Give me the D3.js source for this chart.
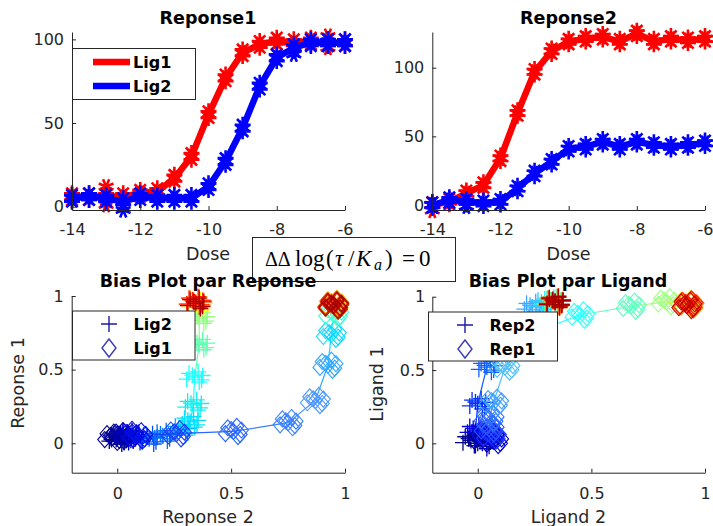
<!DOCTYPE html>
<html><head><meta charset="utf-8">
<script src="https://cdn.jsdelivr.net/npm/d3@7"></script>
<style>
body{margin:0;background:#fff}
svg{display:block}
text{font-family:"DejaVu Sans",sans-serif;fill:#262626}
text.serif{font-family:"Liberation Serif","DejaVu Serif",serif;fill:#000}
</style>
</head><body>
<svg id="c" width="713" height="526"></svg>
<script>
// ---------- DATA ----------
const doses = [-14,-13.5,-13,-12.5,-12,-11.5,-11,-10.5,-10,-9.5,-9,-8.5,-8,-7.5,-7,-6.5,-6];
const doseTicks = [-14,-12,-10,-8,-6];
const resp1Ticks = [0,50,100];
const resp2Ticks = [0,50,100];
const biasTicks = [0,0.5,1];

// Reponse1 (top left)
const r1Lig1 = [6,6,6,6,8,9,17,30,55,77,92,97,99,98,99,98,98];
const r1Lig2 = [5,6,5,3,6,5,5,5,12,27,47,72,89,95,98,98,98];
// Reponse2 (top right)
const r2Lig1 = [0,2.5,8.5,14.5,34,67,97,112,119,121,122.5,119,125,119,121,120,121];
const r2Lig2 = [0,3.6,2.4,1.2,2.4,12,23,31.5,41,42.5,46,42.5,46,43.7,42.5,43.7,45];
// individual replicate spread around the mean (value units) and outlying replicates
const topRepSpread = [-2, 0, 2];
const r1Lig1Extra = [[-13,12],[-13,1],[-6.5,102],[-6.5,95]];
const r1Lig2Extra = [[-12.5,-2],[-7.5,91]];
const r2Lig1Extra = [[-14,-4]];
const r2Lig2Extra = [[-13,-1]];

// Bias plot par Reponse (x = Reponse 2, y = Reponse 1)
const bpRLig1X = [-0.02,0.01,0.05,0.09,0.26,0.51,0.75,0.87,0.925,0.94,0.95,0.95,0.955,0.95,0.945,0.95,0.95];
const bpRLig1Y = [0.04,0.05,0.06,0.05,0.065,0.08,0.14,0.29,0.53,0.74,0.88,0.93,0.94,0.95,0.94,0.93,0.94];
const bpRLig1C = ['#00008c','#0000a6','#0000c8','#0010e8','#1a40ff','#2a66ff','#3a80ff','#4a96ff','#30a8ff','#10d8ff','#40ffd0','#90ff80','#e0ff30','#ffb000','#ff6000','#e01000','#a00000'];
const bpRLig2X = [0.00,0.01,0.03,0.05,0.08,0.14,0.20,0.28,0.32,0.334,0.34,0.36,0.36,0.35,0.345,0.34,0.345];
const bpRLig2Y = [0.03,0.04,0.04,0.05,0.04,0.03,0.05,0.09,0.145,0.26,0.45,0.67,0.85,0.94,0.96,0.96,0.95];
const bpRLig2C = ['#000080','#00009a','#0000c0','#0000e0','#0020ff','#0050ff','#0070ff','#00b0ff','#00e0ff','#10f0f0','#20ffff','#60ffb0','#90ff80','#ffff00','#ff9000','#ff2000','#b00000'];

// Bias plot par Ligand (x = Ligand 2, y = Ligand 1)
const bpLRep1X = [0.02,0.05,0.07,0.04,0.06,0.05,0.05,0.07,0.12,0.27,0.45,0.675,0.83,0.92,0.93,0.925,0.92];
const bpLRep1Y = [0.03,0.05,0.02,0.07,0.05,0.1,0.17,0.28,0.52,0.77,0.875,0.935,0.965,0.95,0.945,0.95,0.94];
const bpLRep1C = ['#00008c','#0000a6','#0000c8','#0010e8','#1a30ff','#2a50ff','#3070ff','#40a0ff','#50c0ff','#30d8ff','#30ffff','#60ffc0','#a0ff80','#ffe000','#ff8000','#ff2000','#c00000'];
const bpLRep2X = [-0.03,0.00,0.02,-0.01,0.00,0.04,0.15,0.24,0.29,0.32,0.33,0.34,0.34,0.335,0.34,0.34,0.34];
const bpLRep2Y = [0.02,0.05,0.0,0.09,0.27,0.52,0.78,0.93,0.95,0.96,0.965,0.97,0.96,0.965,0.97,0.96,0.965];
const bpLRep2C = ['#000080','#0000a0','#0000c0','#0000e0','#0030ff','#1060ff','#20a0ff','#40a8ff','#30c8ff','#20e8ff','#60ffa0','#d0ff20','#ffd000','#ff8000','#ff3000','#e00000','#a00000'];
// replicate offsets within each dose cluster
const repJitterX = [0, 0.03, -0.025, 0.015, -0.035, 0.02, -0.01, 0.035];
const repJitterY = [0, -0.02, 0.025, 0.035, -0.015, -0.035, 0.012, 0.01];

// ---------- DRAW ----------
const svg = d3.select('#c');
const AX = '#262626';

function styleAxis(g){
  g.attr('font-size',null).attr('font-family',null);
  g.selectAll('path,line').attr('stroke',AX);
  g.selectAll('text').attr('fill',AX).style('font-size','16px');
}
function drawAxes(x, y, xt, yt, xpad, ypad){
  const gx = svg.append('g').attr('transform',`translate(0,${y.range()[0]})`)
    .call(d3.axisBottom(x).tickValues(xt).tickSize(-4).tickSizeOuter(0).tickPadding(xpad).tickFormat(d=>String(d)));
  styleAxis(gx);
  const gy = svg.append('g').attr('transform',`translate(${x.range()[0]},0)`)
    .call(d3.axisLeft(y).tickValues(yt).tickSize(-4).tickSizeOuter(0).tickPadding(ypad).tickFormat(d=>String(d)));
  styleAxis(gy);
}
function title(txt, cx, by){
  svg.append('text').attr('x',cx).attr('y',by).attr('text-anchor','middle')
    .style('font-weight','bold').style('font-size','17.5px').style('fill','#000').text(txt);
}
function xlabel(txt, cx, by){
  svg.append('text').attr('x',cx).attr('y',by).attr('text-anchor','middle')
    .style('font-size','17.5px').text(txt);
}
function ylabel(txt, bx, cy){
  svg.append('text').attr('transform',`translate(${bx},${cy}) rotate(-90)`).attr('text-anchor','middle')
    .style('font-size','17.5px').text(txt);
}
function asterisk(r){
  const a = r*Math.SQRT1_2;
  return `M${-r},0L${r},0M0,${-r}L0,${r}M${-a},${-a}L${a},${a}M${-a},${a}L${a},${-a}`;
}
const diamondPath = 'M0,-8L7,0L0,8L-7,0Z';
const plusPath = 'M-8,0L8,0M0,-8L0,8';

function doseResponse(x, y, vals, extra, color){
  svg.append('path').datum(vals)
    .attr('d', d3.line().x((d,i)=>x(doses[i])).y(d=>y(d)))
    .attr('fill','none').attr('stroke',color).attr('stroke-width',6.5).attr('stroke-linejoin','round');
  const pts = [];
  vals.forEach((v,i)=>topRepSpread.forEach((o,k)=>pts.push([doses[i], v+o, k])));
  extra.forEach(e=>pts.push([e[0],e[1],1]));
  svg.append('g').selectAll('path').data(pts).join('path')
    .attr('transform',d=>`translate(${x(d[0])},${y(d[1])}) rotate(${d[2]===1?22.5:0})`)
    .attr('d',asterisk(8)).attr('fill','none').attr('stroke',color).attr('stroke-width',2.6);
}

// ---- Top left : Reponse1
const xTL = d3.scaleLinear([-14,-6],[72,345]);
const yTL = d3.scaleLinear([-2,104.4],[210,32]);
doseResponse(xTL,yTL,r1Lig1,r1Lig1Extra,'#ff0000');
doseResponse(xTL,yTL,r1Lig2,r1Lig2Extra,'#0000ff');
drawAxes(xTL,yTL,doseTicks,resp1Ticks,14,8);

// ---- Top right : Reponse2
const xTR = d3.scaleLinear([-14,-6],[432.3,705]);
const yTR = d3.scaleLinear([-3.64,126],[210,32]);
doseResponse(xTR,yTR,r2Lig1,r2Lig1Extra,'#ff0000');
doseResponse(xTR,yTR,r2Lig2,r2Lig2Extra,'#0000ff');
drawAxes(xTR,yTR,doseTicks,resp2Ticks,14,8);

// legend top left
const lgT = svg.append('g');
lgT.append('rect').attr('x',72.5).attr('y',48.5).attr('width',123).attr('height',51)
  .attr('fill','#fff').attr('stroke',AX).attr('stroke-width',1);
[['Lig1','#ff0000',62],['Lig2','#0000ff',86]].forEach(([t,c,yy])=>{
  lgT.append('line').attr('x1',93).attr('x2',130).attr('y1',yy).attr('y2',yy)
    .attr('stroke',c).attr('stroke-width',6.5);
  lgT.append('text').attr('x',133).attr('y',yy+6).style('font-weight','bold')
    .style('font-size','16px').style('fill','#000').text(t);
});

// ---- Bias plots
function biasSeries(x, y, xs, ys, cols, shape, sw){
  const g = svg.append('g');
  for(let i=0;i<xs.length-1;i++){
    g.append('line').attr('x1',x(xs[i])).attr('y1',y(ys[i])).attr('x2',x(xs[i+1])).attr('y2',y(ys[i+1]))
      .attr('stroke',cols[i+1]).attr('stroke-width',1.2);
  }
  const pts = [];
  xs.forEach((v,i)=>repJitterX.forEach((jx,r)=>pts.push({x:v+jx, y:ys[i]+repJitterY[r], c:cols[i]})));
  g.selectAll('path').data(pts).join('path')
    .attr('transform',d=>`translate(${x(d.x)},${y(d.y)})`)
    .attr('d',shape).attr('fill','none').attr('stroke',d=>d.c).attr('stroke-width',sw);
}
function biasLegend(x0,y0,w,h,labels){
  const g = svg.append('g');
  g.append('rect').attr('x',x0).attr('y',y0).attr('width',w).attr('height',h)
    .attr('fill','#fff').attr('stroke',AX).attr('stroke-width',1);
  const mx = x0+36.5;
  g.append('path').attr('transform',`translate(${mx},${y0+13})`).attr('d','M-8,0L8,0M0,-8L0,8')
    .attr('fill','none').attr('stroke','#1a1aa0').attr('stroke-width',1.4);
  g.append('path').attr('transform',`translate(${mx},${y0+37})`).attr('d','M0,-9L7,0L0,9L-7,0Z')
    .attr('fill','none').attr('stroke','#3c3cb4').attr('stroke-width',1.4);
  g.append('text').attr('x',x0+61).attr('y',y0+19).style('font-weight','bold').style('font-size','16px').style('fill','#000').text(labels[0]);
  g.append('text').attr('x',x0+61).attr('y',y0+43).style('font-weight','bold').style('font-size','16px').style('fill','#000').text(labels[1]);
}

const xBL = d3.scaleLinear([-0.2,1],[71.7,345]);
const yBL = d3.scaleLinear([-0.2,1],[472.7,296]);
biasSeries(xBL,yBL,bpRLig2X,bpRLig2Y,bpRLig2C,plusPath,1.3);
biasSeries(xBL,yBL,bpRLig1X,bpRLig1Y,bpRLig1C,diamondPath,1.1);
drawAxes(xBL,yBL,biasTicks,biasTicks,15,8);
biasLegend(72.5,311,122.5,49,['Lig2','Lig1']);

const xBR = d3.scaleLinear([-0.2,1],[432.3,705]);
const yBR = d3.scaleLinear([-0.2,1],[472.7,296.7]);
biasSeries(xBR,yBR,bpLRep2X,bpLRep2Y,bpLRep2C,plusPath,1.3);
biasSeries(xBR,yBR,bpLRep1X,bpLRep1Y,bpLRep1C,diamondPath,1.1);
drawAxes(xBR,yBR,biasTicks,biasTicks,15,7);
biasLegend(428.5,312,129,49,['Rep2','Rep1']);

// ---- annotation box
svg.append('rect').attr('x',252.5).attr('y',237.5).attr('width',203).attr('height',44)
  .attr('fill','#fff').attr('stroke',AX).attr('stroke-width',1);
const annG = svg.append('g');
const annPieces = [
  ['ΔΔ',265,266,'normal',20],['log',295,266,'normal',23],['(',326,266,'normal',23],
  ['τ',335,266,'italic',23],['/',348,266,'normal',23],['K',356,266,'italic',23],
  ['a',374,270,'italic',16],[')',385,266,'normal',23],['=',402,266,'normal',23],['0',419,266,'normal',23]
];
annPieces.forEach(([t,xx,yy,st,fs])=>{
  annG.append('text').attr('class','serif').attr('x',xx).attr('y',yy)
    .style('font-style',st).style('font-size',fs+'px').text(t);
});

// ---- titles & labels
title('Reponse1',208,24);
title('Reponse2',568.5,24);
title('Bias Plot par Reponse',208,287);
title('Bias Plot par Ligand',568,287);
xlabel('Dose',208,260);
xlabel('Dose',568.5,260);
xlabel('Reponse 2',208,523);
xlabel('Ligand 2',568.5,523);
ylabel('Reponse 1',23.5,383);
ylabel('Ligand 1',383,384);
</script>
</body></html>
